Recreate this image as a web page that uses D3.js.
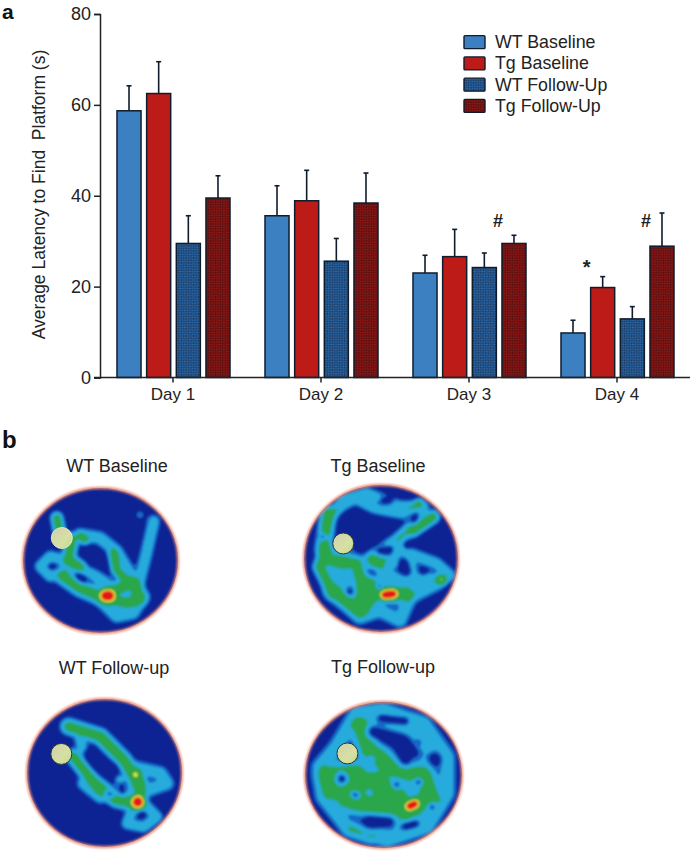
<!DOCTYPE html>
<html><head><meta charset="utf-8">
<script src="https://cdnjs.cloudflare.com/ajax/libs/d3/7.8.5/d3.min.js"></script>
<style>html,body{margin:0;padding:0;background:#fff}svg{display:block}text{font-family:"Liberation Sans",Arial,sans-serif;fill:#222}</style>
</head><body><svg id="c" width="692" height="853"></svg>
<script>
// ---------- bar chart data ----------
const days = ["Day 1","Day 2","Day 3","Day 4"];
const seriesNames = ["WT Baseline","Tg Baseline","WT Follow-Up","Tg Follow-Up"];
const wtBaseline = [58.7,35.6,23.0,9.8];
const tgBaseline = [62.5,38.9,26.6,19.8];
const wtFollowUp = [29.5,25.6,24.2,12.9];
const tgFollowUp = [39.5,38.4,29.5,28.9];
const wtBaselineTop = [64.2,42.2,26.9,12.6];
const tgBaselineTop = [69.5,45.6,32.6,22.2];
const wtFollowUpTop = [35.6,30.6,27.4,15.6];
const tgFollowUpTop = [44.4,45.0,31.3,36.2];
const yTicks = [0,20,40,60,80];
const marks = [["#","Day 3",34.5],["#","Day 4",34.5],["*","Day 4",24]];
const markSeries = ["Tg Follow-Up","Tg Follow-Up","Tg Baseline"];

// ---------- heat-map data: [level, width, x,y, x,y, ...] in zoomed picture units ----------
const mapTitles = ["WT Baseline","Tg Baseline","WT Follow-up","Tg Follow-up"];
const tracksA = [
 [.9,15,462,305,440,400,420,480,405,525],
 [1.5,14,170,295,178,335],
 [.9,16,240,345,300,355,350,395,395,470,410,500],
 [.9,14,120,440,150,410,190,420,195,460,150,470,120,440],
 [1.5,16,215,360,205,420,240,440],
 [1.5,13,340,400,350,450,385,490],
 [1.5,19,190,470,240,505,300,530,380,550,420,535,400,490,350,510],
 [.9,16,215,440,280,465,330,500],
 [.9,16,300,540,350,590,400,580,430,530],
 [1.5,12,240,350,255,360],
 [.32,20,420,285,421,286],
 [2.6,7,397,490,398,491],
 [5.5,15,318,528,328,528]];
const holesA = [[20,262,405,295,425],[13,235,470,250,480],[7,150,440,151,441]];
const tracksB = [
 [1.5,18,115,190,100,300,120,330,200,340,215,400,210,470],
 [.9,15,110,220,160,150,230,130,330,170,400,170],
 [.9,14,200,150,250,175,340,190,390,160],
 [1.5,15,430,200,370,240],
 [.9,15,370,240,300,280,230,330],
 [.9,13,120,190,180,160],
 [.9,14,400,190,330,260,310,340],
 [.9,15,330,300,440,340,480,375,455,390],
 [.9,16,250,350,330,390,440,385],
 [.9,42,150,340,160,380],
 [.9,18,150,440,210,500,270,480,330,510,360,440,440,400],
 [1.5,24,230,400,300,430,350,430],
 [1.5,22,130,420,210,480,250,440],
 [1.5,16,110,300,90,350,130,430],
 [.9,16,360,320,370,390],
 [1.5,18,250,330,290,340],
 [1.6,8,385,160,386,161],
 [2.7,11,455,388,456,389],
 [5.5,11,285,434,310,431]];
const holesB = [[13,300,298,270,302],[10,352,287,353,288],[16,345,340,352,365],[9,400,366,401,367],[7,292,342,293,343],[9,248,365,249,366],[10,268,408,269,409],[12,178,425,179,426],[13,280,152,300,152],[11,380,200,372,212],[30,190,200,260,240],[10,100,260,101,261]];
const tracksC = [
 [1.5,18,205,230,300,260,370,330,400,380,420,430,410,460],
 [1.5,17,220,320,280,395,350,450,400,460],
 [.9,14,240,270,250,310],
 [.9,17,300,260,390,350,480,370,500,400,440,420],
 [.9,13,360,390,380,440],
 [.9,13,290,420,340,450],
 [.9,14,400,470,380,520,430,530,470,500,440,470],
 [.9,16,250,400,300,440],
 [1.5,14,410,370,425,400],
 [2.8,10,405,373,406,374],
 [5.5,15,412,455,413,456]];
const holesC = [[17,262,312,290,345,335,358],[10,365,405,368,425],[8,320,428,335,435],[8,425,490,426,491]];
const tracksD = [
 [.9,20,280,180,400,220,470,320,470,430,410,530,290,570,170,530,100,440,90,350,140,290,200,190,280,180],
 [.9,22,240,220,370,240,420,300,400,370],
 [.9,20,150,470,240,480,330,500,400,500],
 [.9,20,180,540,240,560,350,510],
 [1.5,32,215,230,240,300,300,350,400,380,420,440,350,480,250,470,130,420,115,375,200,370],
 [1.5,38,250,400,320,440],
 [1.5,30,180,410,260,400],
 [5.5,10,358,469,374,462]];
const holesD = [[14,275,205,345,212],[24,250,245,330,270,345,330],[20,155,385,156,386],[11,190,433,200,437],[8,237,425,238,426],[11,318,405,319,406],[12,385,395,386,396],[24,430,325,431,326],[10,425,470,426,471],[24,240,515,295,518],[14,345,530,375,522],[9,385,275,386,276],[8,245,325,246,326]];
const mapDomains = [[[68,535],[205,640]],[[42,505],[105,545]],[[80,545],[148,590]],[[45,515],[155,595]]];
const platformsA = [[185,355],[160,280],[183,312],[172,310]];
const levels = [.25,.5,1,2.1,2.7,3.3];
const levelColors = ["#1768c6","#27abdc","#2aa64c","#e7e33a","#f28a1c","#e3141c"];

// ---------- layout ----------
const svg = d3.select("#c");
const defs = svg.append("defs");
const y = d3.scaleLinear().domain([0,80]).range([377.5,14]);
const x = d3.scaleBand().domain(days).range([99,691]);
const inner = d3.scaleBand().domain(seriesNames).range([18,131]).paddingInner(.19);
const fills = ["#3d80c2","#bd1b17","url(#pb)","url(#pr)"];
const edge = "#0f1c2c";
function pat(id,bg,fg){
  const p = defs.append("pattern").attr("id",id).attr("width",2.4).attr("height",2.4).attr("patternUnits","userSpaceOnUse").attr("patternTransform","rotate(45)");
  p.append("rect").attr("width",2.4).attr("height",2.4).attr("fill",bg);
  p.append("rect").attr("width",1.2).attr("height",1.2).attr("fill",fg);
  p.append("rect").attr("x",1.2).attr("y",1.2).attr("width",1.2).attr("height",1.2).attr("fill",fg);
}
pat("pb","#2f6eae","#17355f");
pat("pr","#951a18","#4f0d0d");
function blurF(id,s){defs.append("filter").attr("id",id).attr("x","-10%").attr("y","-10%").attr("width","120%").attr("height","120%").append("feGaussianBlur").attr("stdDeviation",s);}
blurF("soft",.9);blurF("rim",1.1);blurF("rimP",.5);
const pg=defs.append("linearGradient").attr("id","plat").attr("x1",0).attr("y1",0).attr("x2",1).attr("y2",1);
pg.append("stop").attr("offset",0).attr("stop-color","#cfcfae");
pg.append("stop").attr("offset",.6).attr("stop-color","#d6e0a4");
pg.append("stop").attr("offset",1).attr("stop-color","#c4d88e");

// bars
const vals = [wtBaseline,tgBaseline,wtFollowUp,tgFollowUp];
const tops = [wtBaselineTop,tgBaselineTop,wtFollowUpTop,tgFollowUpTop];
const gb = svg.append("g");
seriesNames.forEach((s,k)=>{
  days.forEach((d,i)=>{
    const bx = x(d)+inner(s), w = inner.bandwidth(), cx = bx+w/2;
    gb.append("line").attr("x1",cx).attr("x2",cx).attr("y1",y(tops[k][i])).attr("y2",y(vals[k][i])).attr("stroke",edge).attr("stroke-width",1.6);
    gb.append("line").attr("x1",cx-2.5).attr("x2",cx+2.5).attr("y1",y(tops[k][i])).attr("y2",y(tops[k][i])).attr("stroke",edge).attr("stroke-width",1.6);
    gb.append("rect").attr("x",bx).attr("y",y(vals[k][i])).attr("width",w).attr("height",y(0)-y(vals[k][i]))
      .attr("fill",fills[k]).attr("stroke",edge).attr("stroke-width",1.5);
  });
});

// axes
const ff='"Liberation Sans",Arial,sans-serif';
const ax = svg.append("g").attr("transform","translate(100,0)").call(d3.axisLeft(y).tickValues(yTicks).tickSize(6).tickPadding(3));
ax.select(".domain").attr("stroke","#222").attr("stroke-width",1.5);
ax.selectAll(".tick line").attr("stroke","#222").attr("stroke-width",1.5);
ax.selectAll("text").attr("font-size",18).style("font-family",ff).attr("fill","#222");
const bx = svg.append("g").attr("transform","translate(0,377.5)").call(d3.axisBottom(x).tickSize(5).tickPadding(5));
bx.select(".domain").attr("stroke","#222").attr("stroke-width",1.5).attr("d","M94,0H690");
bx.selectAll(".tick line").attr("stroke","#222").attr("stroke-width",1.5);
bx.selectAll("text").attr("font-size",17).style("font-family",ff).attr("fill","#222");
svg.append("text").attr("transform","translate(45,194.5) rotate(-90)").attr("text-anchor","middle").attr("font-size",17.5).style("white-space","pre").text("Average Latency to Find  Platform (s)");

// legend
const legY = d3.scaleBand().domain(seriesNames).range([31.5,116.5]);
seriesNames.forEach((s,k)=>{
  const c = legY(s)+legY.bandwidth()/2;
  svg.append("rect").attr("x",464).attr("y",c-6.5).attr("width",21).attr("height",13).attr("rx",1).attr("fill",fills[k]).attr("stroke",edge).attr("stroke-width",1.4);
  svg.append("text").attr("x",495).attr("y",c+6).attr("font-size",17.8).text(s);
});

// significance marks
marks.forEach((m,i)=>{
  svg.append("text").attr("x",x(m[1])+inner(markSeries[i])+inner.bandwidth()/2-16).attr("y",y(m[2])+6)
    .attr("text-anchor","middle").attr("font-size",m[0]==="*"?20:18).attr("font-weight","bold").text(m[0]);
});

// panel letters
svg.append("text").attr("x",2).attr("y",19).attr("font-size",21).attr("font-weight","bold").style("fill","#111").text("a");
svg.append("text").attr("x",2).attr("y",448).attr("font-size",24).attr("font-weight","bold").style("fill","#111").text("b");

// heat maps
const widthGain = 1.2;
const boxes = [{l:23,r:178,t:488,b:633,tx:117,ty:472},{l:304,r:458,t:485,b:632,tx:378,ty:472},{l:27,r:182,t:699,b:847,tx:114,ty:674},{l:305,r:462,t:702,b:848,tx:383,ty:673}];
const allTracks = [tracksA,tracksB,tracksC,tracksD];
const allHoles = [holesA,holesB,holesC,holesD];
function segDist(px,py,ax,ay,bx,by){
  const dx=bx-ax,dy=by-ay,t=Math.max(0,Math.min(1,((px-ax)*dx+(py-ay)*dy)/(dx*dx+dy*dy)));
  const ex=px-ax-t*dx,ey=py-ay-t*dy;return ex*ex+ey*ey;
}
function polyDist(px,py,a,s){let m=1e12;for(let i=s;i+3<a.length;i+=2){m=Math.min(m,segDist(px,py,a[i],a[i+1],a[i+2],a[i+3]));}return m;}
boxes.forEach((b,k)=>{
  const n=b.r-b.l,m=b.b-b.t;
  const sx=d3.scaleLinear().domain(mapDomains[k][0]).range([b.l,b.r]);
  const sy=d3.scaleLinear().domain(mapDomains[k][1]).range([b.t,b.b]);
  const cx=(b.l+b.r)/2,cy=(b.t+b.b)/2,rx=n/2,ry=m/2;
  const id="clip"+k;
  defs.append("clipPath").attr("id",id).append("ellipse").attr("cx",cx).attr("cy",cy).attr("rx",rx-.5).attr("ry",ry-.5);
  const f=new Float64Array(n*m);
  for(let j=0;j<m;j++)for(let i=0;i<n;i++){
    const ux=sx.invert(b.l+i+.5),uy=sy.invert(b.t+j+.5);
    let v=0;
    for(const t of allTracks[k]){const d=polyDist(ux,uy,t,2),w=t[1]*widthGain;v+=Math.pow(t[0]*Math.exp(-d/(w*w)),3);}
    v=Math.cbrt(v);
    for(const h of allHoles[k]){const d=polyDist(ux,uy,h,1);v*=1-Math.exp(-d/(h[0]*h[0]));}
    f[j*n+i]=v;
  }
  d3.blur2({data:f,width:n,height:m},1.2);
  svg.append("text").attr("x",b.tx).attr("y",b.ty).attr("text-anchor","middle").attr("font-size",18).text(mapTitles[k]);
  const g=svg.append("g");
  g.append("ellipse").attr("cx",cx).attr("cy",cy).attr("rx",rx).attr("ry",ry).attr("fill","#0d2394");
  const clip=g.append("g").attr("clip-path",`url(#${id})`);
  const inn=clip.append("g").attr("filter","url(#soft)").attr("transform",`translate(${b.l},${b.t})`);
  const cs=d3.contours().size([n,m]).thresholds(levels)(Array.from(f));
  cs.forEach((c,i)=>{inn.append("path").attr("d",d3.geoPath()(c)).attr("fill",levelColors[i]);});
  g.append("ellipse").attr("cx",cx).attr("cy",cy).attr("rx",rx).attr("ry",ry).attr("fill","none").attr("stroke","#ea8a72").attr("stroke-width",2.4).attr("filter","url(#rim)");
  const p=platformsA[k];
  g.append("circle").attr("cx",sx(p[0])).attr("cy",sy(p[1])).attr("r",10.5).attr("fill","url(#plat)").attr("stroke",k===0?"#dfe6c0":"#2a3a28").attr("stroke-width",1).attr("filter","url(#rimP)");
});
</script></body></html>
